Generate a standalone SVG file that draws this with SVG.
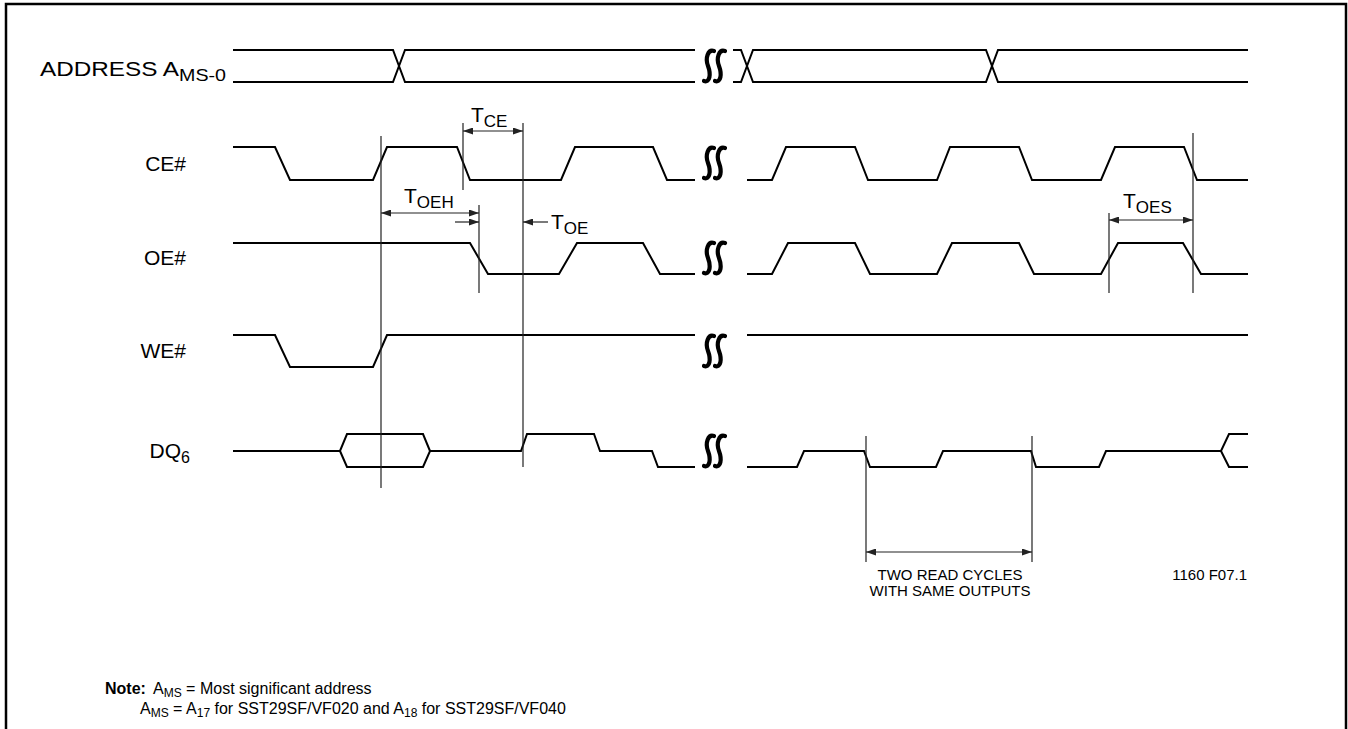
<svg xmlns="http://www.w3.org/2000/svg" width="1348" height="729" viewBox="0 0 1348 729">
<defs>
<style>
.frame{fill:none;stroke:#000;stroke-width:2.5}
.wave{fill:none;stroke:#000;stroke-width:2;stroke-linejoin:miter}
.tl{fill:none;stroke:#222;stroke-width:1.2}
.arr{fill:none;stroke:#222;stroke-width:1.2}
.sq{fill:none;stroke:#000;stroke-width:4.2;stroke-linecap:round}
.lbl{font-family:"Liberation Sans",Arial,sans-serif;font-size:21px;fill:#000}
.sm{font-family:"Liberation Sans",Arial,sans-serif;font-size:15px;fill:#000}
.note{font-family:"Liberation Sans",Arial,sans-serif;font-size:16px;fill:#000}
</style>
<marker id="ah" viewBox="0 0 10 7" refX="10" refY="3.5" markerWidth="10" markerHeight="7" markerUnits="userSpaceOnUse" orient="auto-start-reverse">
<path d="M0,0 L10,3.5 L0,7 z" fill="#222"/>
</marker>
<g id="squig">
<path class="sq" d="M0,-15 C-6,-17 -9,-8 -6,0 C-3,8 -4,17 -10,15"/>
<path class="sq" d="M11,-15 C5,-17 2,-8 5,0 C8,8 7,17 1,15"/>
</g>
</defs>
<rect width="1348" height="729" fill="#fff"/>
<path class="frame" d="M6,729 V4 H1346 V729"/>

<g id="address">
<text class="lbl" x="40" y="76" font-size="22" textLength="186" lengthAdjust="spacingAndGlyphs">ADDRESS A<tspan font-size="17" dy="5">MS-0</tspan></text>
<path class="wave" d="M233,50 H393 L405,82 H695 M233,82 H393 L405,50 H695"/>
<use href="#squig" x="714" y="66"/>
<path class="wave" d="M733,50 H741 L753,82 H986 L998,50 H1248 M733,82 H741 L753,50 H986 L998,82 H1248"/>
</g>

<g id="ce">
<text class="lbl" x="186" y="171" text-anchor="end">CE#</text>
<path class="wave" d="M233,147 H275 L290,180 H373 L387,147 H457 L470,180 H561 L575,147 H653 L667,180 H695"/>
<use href="#squig" x="714" y="163"/>
<path class="wave" d="M747,180 H772 L786,147 H855 L868,180 H937 L950,147 H1019 L1032,180 H1101 L1115,147 H1184 L1197,180 H1248"/>
</g>

<g id="oe">
<text class="lbl" x="186" y="265" text-anchor="end">OE#</text>
<path class="wave" d="M233,243 H470 L488,274 H559 L577,243 H643 L660,274 H695"/>
<use href="#squig" x="714" y="258"/>
<path class="wave" d="M747,274 H772 L788,243 H855 L870,274 H937 L952,243 H1019 L1034,274 H1101 L1118,243 H1183 L1201,274 H1248"/>
</g>

<g id="we">
<text class="lbl" x="186" y="358" text-anchor="end">WE#</text>
<path class="wave" d="M233,335 H275 L290,367 H373 L387,335 H695"/>
<use href="#squig" x="714" y="351"/>
<path class="wave" d="M747,335 H1248"/>
</g>

<g id="dq6">
<text class="lbl" x="190" y="458" text-anchor="end">DQ<tspan font-size="16" dy="5">6</tspan></text>
<path class="wave" d="M233,451 H340 L347,434 H423 L430,451 M340,451 L347,467 H423 L430,451 H521 L527,434 H594 L600,451 H652 L658,467 H695"/>
<use href="#squig" x="714" y="451"/>
<path class="wave" d="M747,467 H797 L804,451 H864 L870,467 H936 L943,451 H1031 L1036,467 H1099 L1106,451 H1221 L1229,434 H1248 M1221,451 L1229,467 H1248"/>
</g>

<g id="connectors">
<path class="tl" d="M381,136 V488 M463,123 V190 M523,123 V467 M479,205 V293 M1109,213 V293 M1193,133 V293 M866,436 V562 M1032,436 V562"/>
<line class="arr" x1="463" y1="131" x2="523" y2="131" marker-start="url(#ah)" marker-end="url(#ah)"/>
<line class="arr" x1="381" y1="213" x2="479" y2="213" marker-start="url(#ah)" marker-end="url(#ah)"/>
<line class="arr" x1="455" y1="222" x2="479" y2="222" marker-end="url(#ah)"/>
<line class="arr" x1="548" y1="222" x2="523" y2="222" marker-end="url(#ah)"/>
<line class="arr" x1="1109" y1="220" x2="1193" y2="220" marker-start="url(#ah)" marker-end="url(#ah)"/>
<line class="arr" x1="866" y1="552" x2="1032" y2="552" marker-start="url(#ah)" marker-end="url(#ah)"/>
</g>

<g id="timing-labels">
<text class="lbl" x="471" y="122">T<tspan font-size="17" dy="5">CE</tspan></text>
<text class="lbl" x="404" y="203">T<tspan font-size="17" dy="5">OEH</tspan></text>
<text class="lbl" x="551" y="229">T<tspan font-size="17" dy="5">OE</tspan></text>
<text class="lbl" x="1123" y="208">T<tspan font-size="17" dy="5">OES</tspan></text>
<text class="sm" x="950" y="580" text-anchor="middle">TWO READ CYCLES</text>
<text class="sm" x="950" y="596" text-anchor="middle">WITH SAME OUTPUTS</text>
<text class="sm" x="1247" y="580" text-anchor="end">1160 F07.1</text>
</g>

<g id="note">
<text class="note" x="105" y="694" font-weight="bold">Note:</text>
<text class="note" x="153" y="694">A<tspan font-size="12" dy="3">MS</tspan><tspan dy="-3"> = Most significant address</tspan></text>
<text class="note" x="140" y="714">A<tspan font-size="12" dy="3">MS</tspan><tspan dy="-3"> = A</tspan><tspan font-size="12" dy="3">17</tspan><tspan dy="-3"> for SST29SF/VF020 and A</tspan><tspan font-size="12" dy="3">18</tspan><tspan dy="-3"> for SST29SF/VF040</tspan></text>
</g>
</svg>
